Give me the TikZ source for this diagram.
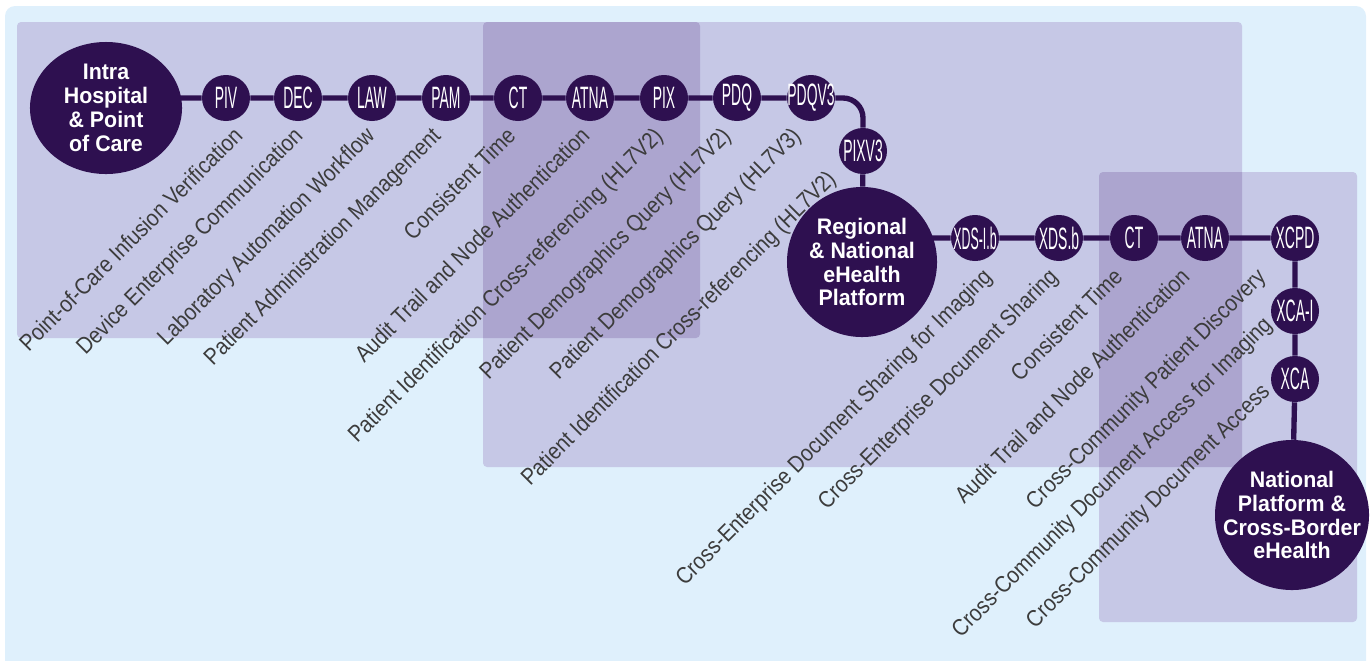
\documentclass[tikz,border=0pt]{standalone}
\usepackage{fontspec}
\setmainfont{Liberation Sans}
\newfontfamily\lblfont[FakeStretch=0.88]{Liberation Sans}
\newfontfamily\abbrfont[FakeStretch=0.45]{Liberation Sans}
\newfontfamily\abbrtight[FakeStretch=0.4]{Liberation Sans}
\newfontfamily\hubfont[FakeStretch=0.95]{Liberation Sans}
\usetikzlibrary{shapes.geometric,calc,backgrounds}

\definecolor{skybg}{HTML}{DFF0FC}
\definecolor{lav}{HTML}{C6C8E6}
\definecolor{lavdeep}{HTML}{ACA5CF}
\definecolor{ihe}{HTML}{2E1050}
\definecolor{lbltext}{HTML}{3C3C3C}

\tikzset{
  hub/.style={ellipse, fill=ihe, inner sep=0pt, label={[hubtext]center:#1}},
  hubtext/.style={text=white, align=center, inner sep=0pt, font=\hubfont\fontsize{16}{17}\selectfont\bfseries},
  prof/.style={ellipse, fill=ihe, inner sep=0pt, minimum width=1.2cm, minimum height=1.15cm, label={[proftext]center:#1}},
  proftext/.style={text=white, inner sep=0pt, font=\abbrfont\fontsize{22}{22}\selectfont},
  lbl/.style={rotate=45, anchor=north east, inner sep=0pt, text=lbltext, font=\lblfont\fontsize{16.5}{16.5}\selectfont},
  link/.style={draw=ihe, line width=3.8pt, rounded corners=0.5cm},
  zone/.style={fill=lav, rounded corners=0.1cm}
}

\begin{document}
\begin{tikzpicture}[x=0.025cm, y=-0.025cm]
\useasboundingbox (0,0) rectangle (1371,660);

% hubs
\node[hub={Intra\\Hospital\\\& Point\\of Care}, minimum width=3.8cm, minimum height=3.3cm] (intra) at (106,108) {};
\node[hub={Regional\\\& National\\eHealth\\Platform}, minimum size=3.75cm] (regional) at (862,262) {};
\node[hub={National\\Platform \&\\Cross-Border\\eHealth}, minimum width=3.85cm, minimum height=3.75cm] (national) at (1292,515) {};

% profiles, first row
\node[prof=PIV] (piv) at (226,98) {};
\node[prof=DEC] (dec) at (298,98) {};
\node[prof=LAW] (law) at (372,98) {};
\node[prof=PAM] (pam) at (446,98) {};
\node[prof=CT] (ct1) at (518,98) {};
\node[prof=ATNA] (atna1) at (590,98) {};
\node[prof=PIX] (pix) at (664,98) {};
\node[prof=PDQ] (pdq) at (737,98) {};
\node[prof=PDQV3] (pdqv3) at (811,98) {};
\node[prof=PIXV3] (pixv3) at (863,151) {};

% profiles, second row
\node[prof={\abbrtight XDS-I.b}] (xdsib) at (975,238) {};
\node[prof=XDS.b] (xdsb) at (1059,238) {};
\node[prof=CT] (ct2) at (1134,238) {};
\node[prof=ATNA] (atna2) at (1205,238) {};
\node[prof=XCPD] (xcpd) at (1295,238) {};
\node[prof=XCA-I] (xcai) at (1295,311) {};
\node[prof=XCA] (xca) at (1295,379) {};

% profile names
\node[lbl] (piv-l) at (232,125) {Point-of-Care Infusion Verification};
\node[lbl] (dec-l) at (292,125) {Device Enterprise Communication};
\node[lbl] (law-l) at (364,125) {Laboratory Automation Workflow};
\node[lbl] (pam-l) at (430,125) {Patient Administration Management};
\node[lbl] (ct1-l) at (505,125) {Consistent Time};
\node[lbl] (atna1-l) at (579,125) {Audit Trail and Node Authentication};
\node[lbl] (pix-l) at (652,125) {Patient Identification Cross-referencing (HL7V2)};
\node[lbl] (pdq-l) at (720,125) {Patient Demographics Query (HL7V2)};
\node[lbl] (pdqv3-l) at (790,125) {Patient Demographics Query (HL7V3)};
\node[lbl] (pixv3-l) at (825,168) {Patient Identification Cross-referencing (HL7V2)};

\node[lbl] (xdsib-l) at (981,266) {Cross-Enterprise Document Sharing for Imaging};
\node[lbl] (xdsb-l) at (1047,266) {Cross-Enterprise Document Sharing};
\node[lbl] (ct2-l) at (1112,266) {Consistent Time};
\node[lbl] (atna2-l) at (1179,266) {Audit Trail and Node Authentication};
\node[lbl] (xcpd-l) at (1255,266) {Cross-Community Patient Discovery};
\node[lbl] (xcai-l) at (1261,314) {Cross-Community Document Access for Imaging};
\node[lbl] (xca-l) at (1259,381) {Cross-Community Document Access};

\begin{scope}[on background layer]
  \fill[skybg, rounded corners=0.25cm] (5,6) rectangle (1366,690);
  \fill[zone] (17,22) rectangle (700,338);
  \fill[zone] (483,22) rectangle (1242,467);
  \fill[zone] (1099,172) rectangle (1357,622);
  \begin{scope}
    \clip[rounded corners=0.1cm] (17,22) rectangle (700,338);
    \fill[lavdeep, rounded corners=0.1cm] (483,22) rectangle (1242,467);
  \end{scope}
  \begin{scope}
    \clip[rounded corners=0.1cm] (483,22) rectangle (1242,467);
    \fill[lavdeep, rounded corners=0.1cm] (1099,172) rectangle (1357,622);
  \end{scope}

  % connectors
  \draw[link] (piv -| intra.center) -- (piv) -- (dec) -- (law) -- (pam) -- (ct1) -- (atna1)
    -- (pix) -- (pdq) -- (pdqv3) -| (pixv3) -- (regional);
  \draw[link] (xdsib -| regional.center) -- (xdsib) -- (xdsb) -- (ct2) -- (atna2) -- (xcpd)
    -- (xcai) -- (xca) -- (national);
\end{scope}
\end{tikzpicture}
\end{document}
